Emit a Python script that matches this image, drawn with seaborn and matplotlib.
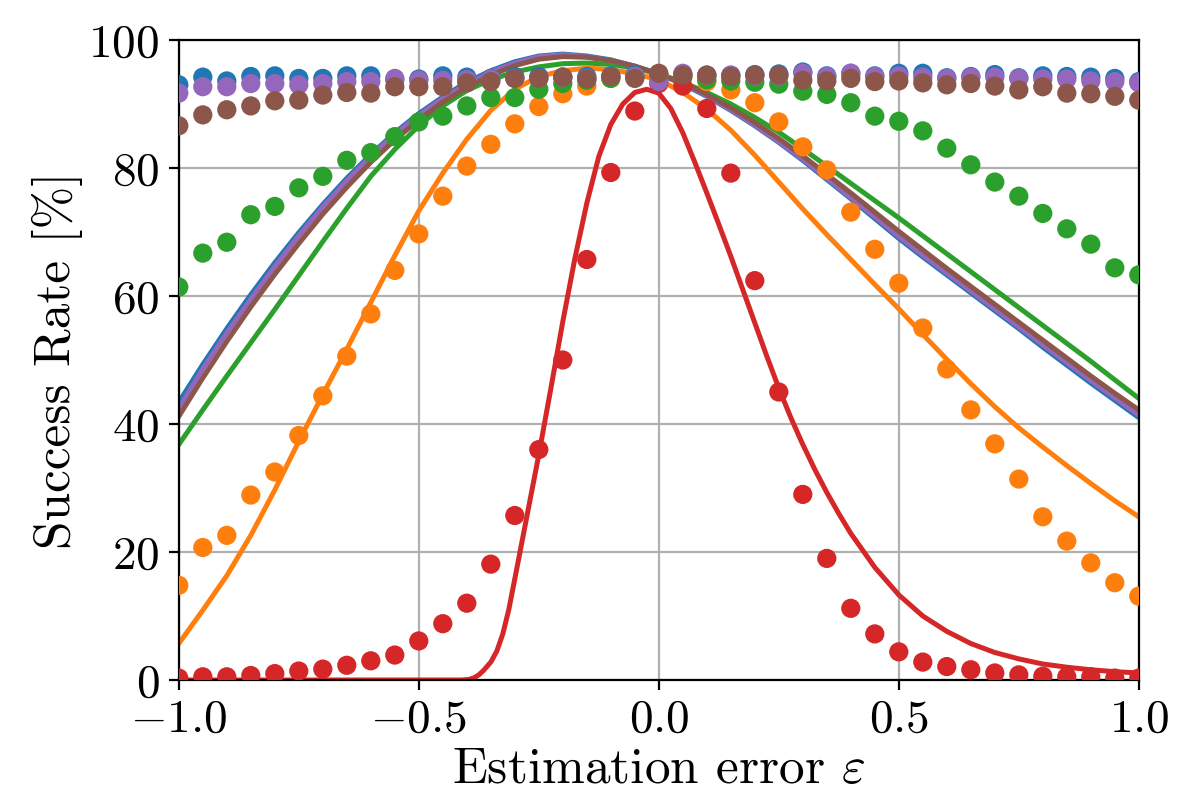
import numpy as np
import pandas as pd
import seaborn as sns
import matplotlib
matplotlib.use('Agg')
import matplotlib.pyplot as plt

# computer-modern look without latex
plt.rcParams['font.family'] = 'cmr10'
plt.rcParams['mathtext.fontset'] = 'cm'
plt.rcParams['axes.formatter.use_mathtext'] = True

series = ['C0', 'C1', 'C2', 'C3', 'C4', 'C5']
colors = ['#1f77b4', '#ff7f0e', '#2ca02c', '#d62728', '#9467bd', '#8c564b']

# measured points (dots), x = -1, -0.95, ..., 1
eps_dots = [-1.0, -0.95, -0.9, -0.85, -0.8, -0.75, -0.7, -0.65, -0.6, -0.55, -0.5,
            -0.45, -0.4, -0.35, -0.3, -0.25, -0.2, -0.15, -0.1, -0.05, 0.0,
            0.05, 0.1, 0.15, 0.2, 0.25, 0.3, 0.35, 0.4, 0.45, 0.5,
            0.55, 0.6, 0.65, 0.7, 0.75, 0.8, 0.85, 0.9, 0.95, 1.0]
blue_dots = [93.0, 94.2, 93.6, 94.3, 94.4, 94.0, 94.0, 94.4, 94.4, 93.8, 93.9,
             94.4, 94.2, 94.0, 94.3, 94.3, 94.2, 94.3, 94.4, 94.5, 94.5,
             94.6, 94.5, 94.5, 94.6, 94.7, 95.0, 94.4, 94.8, 94.4, 94.8,
             94.8, 94.1, 94.3, 94.6, 94.1, 94.4, 94.3, 94.2, 94.0, 93.5]
orange_dots = [14.8, 20.7, 22.6, 28.9, 32.5, 38.2, 44.4, 50.6, 57.2, 64.0, 69.7,
               75.6, 80.3, 83.7, 86.9, 89.6, 91.6, 92.8, 94.0, 94.3, 94.5,
               94.3, 93.5, 92.2, 90.2, 87.2, 83.3, 79.7, 73.1, 67.3, 62.0,
               55.0, 48.6, 42.2, 36.9, 31.4, 25.5, 21.7, 18.3, 15.2, 13.1]
green_dots = [61.4, 66.7, 68.4, 72.7, 74.0, 76.9, 78.7, 81.2, 82.4, 84.9, 87.2,
              88.1, 89.7, 91.0, 91.0, 92.3, 93.2, 93.7, 94.0, 94.2, 94.5,
              94.2, 93.8, 93.6, 93.4, 93.1, 92.0, 91.5, 90.2, 88.1, 87.3,
              85.8, 83.1, 80.5, 77.8, 75.6, 72.9, 70.5, 68.1, 64.4, 63.3]
red_dots = [0.3, 0.5, 0.5, 0.7, 1.0, 1.4, 1.7, 2.3, 3.0, 3.9, 6.1,
            8.8, 12.0, 18.1, 25.7, 36.0, 50.0, 65.7, 79.3, 88.9, 93.2,
            92.8, 89.3, 79.2, 62.4, 45.0, 29.0, 19.0, 11.2, 7.2, 4.4,
            2.8, 2.1, 1.6, 1.1, 0.8, 0.6, 0.5, 0.5, 0.3, 0.3]
purple_dots = [91.7, 92.7, 92.7, 93.2, 93.2, 93.0, 93.2, 93.5, 93.5, 94.0, 93.7,
               93.7, 93.8, 93.9, 94.0, 94.0, 94.2, 94.0, 94.3, 94.3, 93.5,
               94.8, 94.5, 94.5, 94.4, 94.4, 94.8, 94.3, 94.8, 94.3, 94.4,
               94.2, 94.0, 94.2, 94.2, 94.0, 93.9, 93.9, 93.6, 93.5, 93.3]
brown_dots = [86.6, 88.3, 89.1, 89.7, 90.5, 90.6, 91.4, 91.8, 91.7, 92.7, 92.7,
              92.7, 93.3, 93.5, 94.0, 94.0, 94.2, 93.9, 94.3, 94.0, 94.8,
              94.5, 94.5, 94.3, 94.5, 94.5, 93.7, 93.6, 94.0, 93.5, 93.6,
              93.3, 93.0, 93.2, 92.8, 92.2, 92.7, 91.7, 91.6, 91.2, 90.6]

# model curves (lines)
eps_line = eps_dots
blue_line = [43.4, 49.3, 54.9, 60.2, 65.2, 69.9, 74.3, 78.4, 82.1, 85.5, 88.5,
             91.1, 93.4, 95.2, 96.6, 97.5, 97.8, 97.5, 96.9, 95.9, 94.7,
             93.1, 91.2, 89.0, 86.6, 84.0, 81.2, 78.2, 75.2, 72.1, 69.0,
             66.1, 63.3, 60.5, 57.7, 54.9, 52.0, 49.2, 46.4, 43.7, 41.0]
purple_line = [42.4, 48.6, 54.2, 59.5, 64.6, 69.4, 73.9, 78.0, 81.8, 85.3, 88.2,
               90.9, 93.1, 95.0, 96.4, 97.4, 97.7, 97.4, 96.8, 95.9, 94.7,
               93.2, 91.3, 89.1, 86.7, 84.1, 81.4, 78.4, 75.4, 72.4, 69.3,
               66.4, 63.6, 60.8, 58.0, 55.2, 52.4, 49.6, 46.8, 44.1, 41.4]
brown_line = [41.2, 47.2, 52.9, 58.3, 63.4, 68.2, 72.8, 77.0, 80.9, 84.4, 87.5,
              90.3, 92.6, 94.5, 96.0, 97.0, 97.4, 97.3, 96.8, 95.9, 94.7,
              93.3, 91.5, 89.4, 87.1, 84.6, 81.9, 79.0, 76.1, 73.1, 70.1,
              67.2, 64.3, 61.5, 58.7, 55.9, 53.1, 50.3, 47.5, 44.8, 42.2]
green_line = [36.8, 42.2, 47.5, 52.7, 57.9, 63.2, 68.5, 73.7, 78.7, 82.9, 86.6,
              89.7, 92.1, 93.8, 95.0, 95.8, 96.3, 96.4, 96.2, 95.6, 94.7,
              93.4, 91.8, 90.0, 87.9, 85.6, 83.0, 80.3, 77.6, 74.9, 72.2,
              69.4, 66.6, 63.8, 61.0, 58.2, 55.4, 52.6, 49.8, 46.9, 44.0]
orange_line = [5.7, 10.9, 16.3, 22.6, 29.7, 37.3, 44.6, 51.7, 59.0, 66.3, 73.3,
               79.2, 84.5, 89.0, 92.3, 94.3, 95.2, 95.6, 95.4, 94.7, 93.8,
               91.8, 89.2, 85.9, 82.0, 77.8, 73.6, 69.6, 65.7, 61.8, 58.0,
               54.0, 50.1, 46.3, 42.7, 39.4, 36.4, 33.5, 30.7, 28.0, 25.5]
eps_red = [-1.0, -0.5, -0.41, -0.395, -0.385, -0.375, -0.365, -0.35, -0.3375, -0.325,
           -0.3125, -0.3, -0.275, -0.25, -0.225,
           -0.2, -0.175, -0.15, -0.125, -0.1, -0.075, -0.05, -0.025, 0.0,
           0.025, 0.05, 0.075, 0.1, 0.125, 0.15, 0.175, 0.2, 0.225, 0.25,
           0.275, 0.3, 0.325, 0.35, 0.375, 0.4, 0.45, 0.5, 0.55, 0.6,
           0.65, 0.7, 0.75, 0.8, 0.85, 0.9, 0.95, 1.0]
red_line = [0.0, 0.0, 0.0, 0.1, 0.35, 0.8, 1.5, 2.8, 4.5, 7.2,
            11.0, 15.8, 25.5, 35.2, 45.5,
            56.0, 65.8, 74.5, 81.8, 86.8, 90.0, 91.8, 92.3, 91.7,
            89.3, 85.5, 80.9, 76.1, 71.2, 66.2, 61.0, 55.8, 50.6, 45.6,
            41.0, 36.8, 32.9, 29.3, 26.0, 22.9, 17.6, 13.3, 10.0, 7.6,
            5.7, 4.3, 3.3, 2.5, 2.0, 1.6, 1.3, 1.1]

# long tables for seaborn
dots_df = pd.concat([
    pd.DataFrame({'eps': eps_dots, 'rate': vals, 'series': s})
    for s, vals in zip(series, [blue_dots, orange_dots, green_dots, red_dots,
                                purple_dots, brown_dots])
], ignore_index=True)
lines_df = pd.concat([
    pd.DataFrame({'eps': eps_line, 'rate': blue_line, 'series': 'C0'}),
    pd.DataFrame({'eps': eps_line, 'rate': orange_line, 'series': 'C1'}),
    pd.DataFrame({'eps': eps_line, 'rate': green_line, 'series': 'C2'}),
    pd.DataFrame({'eps': eps_red, 'rate': red_line, 'series': 'C3'}),
    pd.DataFrame({'eps': eps_line, 'rate': purple_line, 'series': 'C4'}),
    pd.DataFrame({'eps': eps_line, 'rate': brown_line, 'series': 'C5'}),
], ignore_index=True)
pal = dict(zip(series, colors))

fig = plt.figure(figsize=(6, 4), dpi=200)
ax = fig.add_axes([0.149, 0.15, 0.80, 0.80])

sns.lineplot(data=lines_df, x='eps', y='rate', hue='series', hue_order=series,
             palette=pal, linewidth=1.8, errorbar=None, legend=False, ax=ax, zorder=2)
sns.scatterplot(data=dots_df, x='eps', y='rate', hue='series', hue_order=series,
                palette=pal, s=48, linewidth=0, legend=False, ax=ax, zorder=3)

ax.set_xlim(-1, 1)
ax.set_ylim(0, 100)
ax.set_xticks([-1.0, -0.5, 0.0, 0.5, 1.0])
ax.set_yticks([0, 20, 40, 60, 80, 100])
ax.grid(True)
ax.set_axisbelow(True)
ax.tick_params(labelsize=17)
ax.set_xlabel(r'Estimation error $\varepsilon$', fontsize=18.5, labelpad=2)
ax.set_ylabel(r'Success Rate [%]', fontsize=18.5, labelpad=2)

plt.savefig('out.png', dpi=200)
